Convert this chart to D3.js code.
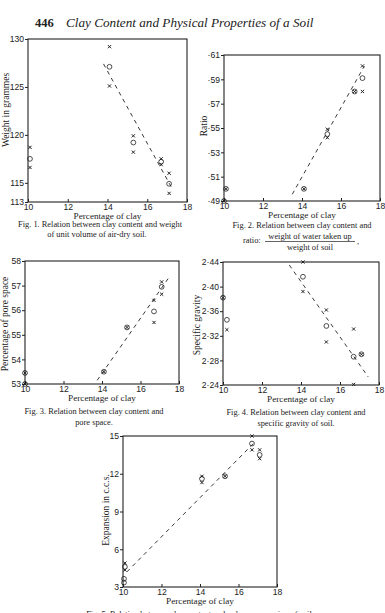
<!DOCTYPE html>
<html>
<head>
<meta charset="utf-8">
<script src="https://cdn.jsdelivr.net/npm/d3@7"></script>
<style>
  body { margin: 0; background: #fff; }
  svg { font-family: "Liberation Serif", "DejaVu Serif", serif; }
  text { fill: #222; }
</style>
</head>
<body>
<svg id="page" width="385" height="613"></svg>
<script>
// ---------------------------------------------------------------
// Data
// ---------------------------------------------------------------
const clayTicks = [10, 12, 14, 16, 18];

// Fig. 1 - weight of unit volume (grammes)
const weightTicks = [113, 115, 120, 125, 130];
const weightCrosses = [[10.1, 118.7], [10.1, 116.6], [14.1, 129.2], [14.1, 125.1], [15.3, 119.9],
  [15.3, 118.2], [16.7, 117.5], [16.7, 116.9], [17.1, 116.0], [17.1, 113.9]];
const weightMeans = [[10.1, 117.5], [14.1, 127.1], [15.3, 119.2], [16.7, 117.2], [17.1, 114.9]];
const weightLine = [[13.8, 127.4], [17.2, 114.6]];

// Fig. 2 - ratio water taken up / soil
const ratioTicks = [0.49, 0.51, 0.53, 0.55, 0.57, 0.59, 0.61];
const ratioCrosses = [[10.1, 0.500], [10.0, 0.490], [14.1, 0.500], [15.3, 0.549], [15.3, 0.542],
  [16.7, 0.580], [17.1, 0.601], [17.1, 0.580]];
const ratioMeans = [[10.1, 0.500], [10.0, 0.490], [14.1, 0.500], [15.3, 0.545], [16.7, 0.580], [17.1, 0.591]];
const ratioLine = [[13.5, 0.4955], [17.2, 0.601]];

// Fig. 3 - pore space (%)
const poreTicks = [53, 54, 55, 56, 57, 58];
const poreCrosses = [[10.0, 53.45], [10.0, 53.0], [14.1, 53.5], [15.3, 55.3], [16.7, 56.4],
  [16.7, 55.5], [17.1, 57.15], [17.1, 56.65]];
const poreMeans = [[10.0, 53.45], [10.0, 53.0], [14.1, 53.5], [15.3, 55.3], [16.7, 55.95], [17.1, 56.95]];
const poreLine = [[13.75, 53.15], [17.45, 57.3]];

// Fig. 4 - specific gravity
const gravityTicks = [2.24, 2.28, 2.32, 2.36, 2.40, 2.44];
const gravityCrosses = [[10.0, 2.382], [10.2, 2.330], [14.1, 2.440], [14.1, 2.392], [15.3, 2.362],
  [15.3, 2.310], [16.7, 2.331], [16.7, 2.241], [17.1, 2.290]];
const gravityMeans = [[10.0, 2.382], [10.2, 2.346], [14.1, 2.416], [15.3, 2.336], [16.7, 2.286], [17.1, 2.290]];
const gravityLine = [[13.4, 2.435], [17.45, 2.253]];

// Fig. 5 - volume expansion (c.c.)
const expansionTicks = [3, 6, 9, 12, 15];
const expansionCrosses = [[10.1, 4.9], [10.1, 4.35], [14.1, 11.8], [14.1, 11.3], [15.3, 11.8],
  [16.7, 15.0], [16.7, 13.9], [17.1, 13.9], [17.1, 13.2]];
const expansionMeans = [[10.1, 4.6], [10.05, 3.65], [10.05, 3.35], [14.1, 11.6], [15.3, 11.8],
  [16.7, 14.4], [17.1, 13.5]];
const expansionLine = [[10.2, 4.2], [16.9, 14.6]];

// ---------------------------------------------------------------
const svg = d3.select('#page');
const ink = '#222';

function panel(o) {
  const g = svg.append('g');
  const x = d3.scaleLinear().domain([10, 18]).range([o.left, o.right]);
  const y = d3.scaleLinear().domain(o.yDomain).range([o.bottom, o.top]);

  g.append('rect')
    .attr('x', o.left).attr('y', o.top)
    .attr('width', o.right - o.left).attr('height', o.bottom - o.top)
    .attr('fill', 'none').attr('stroke', ink).attr('stroke-width', 1.1);

  const ax = g.append('g')
    .attr('transform', `translate(0,${o.bottom})`)
    .call(d3.axisBottom(x).tickValues(clayTicks).tickSize(-3).tickPadding(1.5));
  const ay = g.append('g')
    .attr('transform', `translate(${o.left},0)`)
    .call(d3.axisLeft(y).tickValues(o.yTicks).tickSize(3).tickPadding(1).tickFormat(o.fmt));
  [ax, ay].forEach((a) => {
    a.select('.domain').remove();
    a.selectAll('line').attr('stroke', ink);
    a.selectAll('text').attr('font-size', 8.6).attr('font-family', null).style('fill', ink);
  });

  // dashed fit line
  g.append('path')
    .datum(o.line)
    .attr('d', d3.line().x((d) => x(d[0])).y((d) => y(d[1])))
    .attr('fill', 'none').attr('stroke', ink).attr('stroke-width', 0.9)
    .attr('stroke-dasharray', '4,4');

  // replicate readings (x marks)
  g.selectAll('.cross')
    .data(o.crosses)
    .join('path')
    .attr('class', 'cross')
    .attr('transform', (d) => `translate(${x(d[0])},${y(d[1])})`)
    .attr('d', 'M-1.6,-1.6L1.6,1.6M1.6,-1.6L-1.6,1.6')
    .attr('stroke', ink).attr('stroke-width', 1);

  // means (open circles)
  g.selectAll('.mean')
    .data(o.means)
    .join('circle')
    .attr('class', 'mean')
    .attr('cx', (d) => x(d[0])).attr('cy', (d) => y(d[1]))
    .attr('r', 2.4)
    .attr('fill', 'none').attr('stroke', ink).attr('stroke-width', 0.8);

  // axis titles
  g.append('text')
    .attr('x', (o.left + o.right) / 2).attr('y', o.bottom + (o.xLabelGap || 16.5))
    .attr('text-anchor', 'middle').attr('font-size', 9.2)
    .text('Percentage of clay');
  g.append('text')
    .attr('transform', `translate(${o.yLabelX},${o.yLabelY}) rotate(-90)`)
    .attr('text-anchor', 'middle').attr('font-size', 9.5)
    .text(o.yLabel);

  // caption lines
  o.caption.forEach((c) => {
    g.append('text')
      .attr('x', c.x).attr('y', c.y)
      .attr('text-anchor', 'middle').attr('font-size', 8.4)
      .text(c.t);
  });
  return g;
}

// page header
svg.append('text').attr('x', 35).attr('y', 27)
  .attr('font-size', 12.5).attr('font-weight', 'bold').text('446');
svg.append('text').attr('x', 66).attr('y', 27)
  .attr('font-size', 13.2).attr('font-style', 'italic')
  .text('Clay Content and Physical Properties of a Soil');

panel({
  left: 28, right: 187, top: 39, bottom: 202,
  yDomain: [113, 130], yTicks: weightTicks, fmt: d3.format('d'),
  crosses: weightCrosses, means: weightMeans, line: weightLine,
  yLabel: 'Weight in grammes', yLabelX: 9, yLabelY: 110,
  caption: [
    { x: 100, y: 227, t: 'Fig. 1.  Relation between clay content and weight' },
    { x: 97, y: 237, t: 'of unit volume of air-dry soil.' },
  ],
});

const fig2 = panel({
  left: 224, right: 380, top: 55, bottom: 201,
  yDomain: [0.49, 0.61], yTicks: ratioTicks, fmt: (d) => '·' + d3.format('.2f')(d).slice(2),
  crosses: ratioCrosses, means: ratioMeans, line: ratioLine,
  yLabel: 'Ratio', yLabelX: 207, yLabelY: 126,
  caption: [
    { x: 302, y: 228, t: 'Fig. 2.  Relation between clay content and' },
  ],
});
// fraction part of the Fig. 2 caption
fig2.append('text').attr('x', 243).attr('y', 243).attr('font-size', 8.4).text('ratio:');
fig2.append('text').attr('x', 310).attr('y', 239).attr('text-anchor', 'middle')
  .attr('font-size', 8.4).text('weight of water taken up');
fig2.append('line').attr('x1', 265).attr('x2', 355).attr('y1', 241.5).attr('y2', 241.5)
  .attr('stroke', ink).attr('stroke-width', 0.7);
fig2.append('text').attr('x', 310).attr('y', 250).attr('text-anchor', 'middle')
  .attr('font-size', 8.4).text('weight of soil');
fig2.append('text').attr('x', 357).attr('y', 244).attr('font-size', 8.4).text(',');

panel({
  left: 25, right: 179, top: 261, bottom: 384,
  yDomain: [53, 58], yTicks: poreTicks, fmt: d3.format('d'),
  crosses: poreCrosses, means: poreMeans, line: poreLine,
  yLabel: 'Percentage of pore space', yLabelX: 8, yLabelY: 324,
  caption: [
    { x: 94, y: 414, t: 'Fig. 3.  Relation between clay content and' },
    { x: 94, y: 425, t: 'pore space.' },
  ],
});

panel({
  left: 223, right: 379, top: 262, bottom: 385,
  yDomain: [2.24, 2.44], yTicks: gravityTicks, fmt: (d) => d3.format('.2f')(d).replace('.', '·'),
  crosses: gravityCrosses, means: gravityMeans, line: gravityLine,
  yLabel: 'Specific gravity', yLabelX: 200, yLabelY: 325,
  caption: [
    { x: 296, y: 415, t: 'Fig. 4.  Relation between clay content and' },
    { x: 296, y: 426, t: 'specific gravity of soil.' },
  ],
});

panel({
  left: 123, right: 277, top: 436, bottom: 587,
  yDomain: [3, 15], yTicks: expansionTicks, fmt: d3.format('d'),
  crosses: expansionCrosses, means: expansionMeans, line: expansionLine,
  yLabel: 'Expansion in c.c.s.', yLabelX: 109, yLabelY: 510,
  xLabelGap: 17,
  caption: [
    { x: 200, y: 617, t: 'Fig. 5.  Relation between clay content and volume expansion of soil.' },
  ],
});
</script>
</body>
</html>
